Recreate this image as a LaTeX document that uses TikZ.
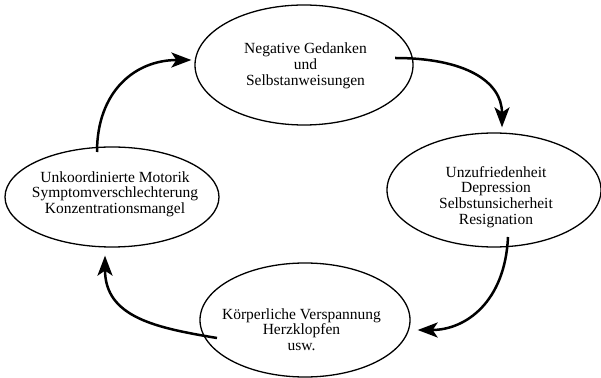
\documentclass[tikz,border=0pt]{standalone}
\usepackage{fontspec}
\setmainfont{Liberation Serif}
\usetikzlibrary{arrows.meta,shapes.geometric,calc}
\begin{document}
\begin{tikzpicture}[x=1pt,y=1pt,
  blob/.style={draw,ellipse,line width=1.3pt,inner sep=0pt},
  lbl/.style={align=center,font=\fontsize{15.5}{15.7}\selectfont,inner sep=0pt},
  flow/.style={line width=2.5pt,-{Stealth[length=20pt,width=15pt,inset=5pt]}}]
\useasboundingbox (0,0) rectangle (601,377);
\node[blob,minimum width=218pt,minimum height=120pt] (N) at (304,312) {};
\node[blob,minimum width=214pt,minimum height=114pt] (R) at (494,187) {};
\node[blob,minimum width=210pt,minimum height=114pt] (B) at (305,57) {};
\node[blob,minimum width=214pt,minimum height=100pt] (L) at (112,180) {};
\node[lbl] (Nt) at (305.5,311) {Negative Gedanken\\und\\Selbstanweisungen};
\node[lbl] (Rt) at (496,180) {Unzufriedenheit\\Depression\\Selbstunsicherheit\\Resignation};
\node[lbl] (Bt) at (301.5,47.5) {Körperliche Verspannung\\Herzklopfen\\usw.};
\node[lbl] (Lt) at (115,183) {Unkoordinierte Motorik\\Symptomverschlechterung\\Konzentrationsmangel};
\coordinate (n1) at ($(N.center)+(91,7)$);
\coordinate (r0) at ($(R.north)+(8,5)$);
\coordinate (r1) at ($(R.center)+(14,-47)$);
\coordinate (b0) at ($(B.east)+(7,-10)$);
\coordinate (b1) at ($(B.center)+(-88,-18)$);
\coordinate (l0) at ($(L.south)+(-7,-8)$);
\coordinate (l1) at ($(L.center)+(-15,45)$);
\coordinate (n0) at ($(N.west)+(-3,5)$);
\draw[flow] (n1) .. controls +(70,0) and +(0,46) .. (r0);
\draw[flow] (r1) .. controls +(-3,-65) and +(48,0) .. (b0);
\draw[flow] (b1) .. controls +(-60,10) and +(0,-62) .. (l0);
\draw[flow] (l1) .. controls +(0,60) and +(-57,0) .. (n0);
\end{tikzpicture}
\end{document}
